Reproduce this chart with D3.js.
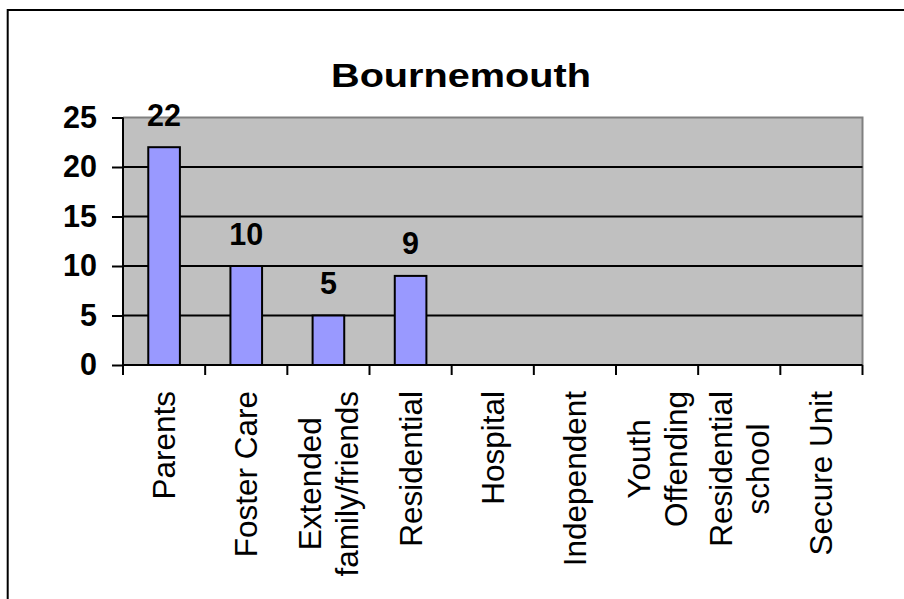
<!DOCTYPE html>
<html>
<head>
<meta charset="utf-8">
<script src="https://cdn.jsdelivr.net/npm/d3@7"></script>
<style>
  body { margin: 0; background: #fff; }
  svg { display: block; font-family: "Liberation Sans", Arial, sans-serif; }
</style>
</head>
<body>
<svg id="chart" width="904" height="599"></svg>
<script>
const title = "Bournemouth"
// category labels, split into the lines Excel wrapped them on
const categories = [
  ["Parents"],
  ["Foster Care"],
  ["Extended", "family/friends"],
  ["Residential"],
  ["Hospital"],
  ["Independent"],
  ["Youth", "Offending"],
  ["Residential", "school"],
  ["Secure Unit"]
]
const values = [22, 10, 5, 9, null, null, null, null, null]
const yTicks = [0, 5, 10, 15, 20, 25]

const plot = { left: 123, right: 862.5, top: 117.5, bottom: 365 }

const svg = d3.select("#chart")

// outer chart frame, cut off on the right and bottom
svg.append("rect")
  .attr("x", 7.7).attr("y", 10)
  .attr("width", 1000).attr("height", 1000)
  .attr("fill", "#fff")
  .attr("stroke", "#000")
  .attr("stroke-width", 2)

const x = d3.scaleBand()
  .domain(d3.range(categories.length))
  .range([plot.left, plot.right])
  .paddingInner(0.615)
  .paddingOuter(0.3075)

const y = d3.scaleLinear()
  .domain([0, 25])
  .range([plot.bottom, plot.top])

// plot area
svg.append("rect")
  .attr("x", plot.left).attr("y", plot.top)
  .attr("width", plot.right - plot.left)
  .attr("height", plot.bottom - plot.top)
  .attr("fill", "#C0C0C0")

svg.append("path")
  .attr("d", `M${plot.left},${plot.top}H${plot.right}V${plot.bottom}`)
  .attr("fill", "none")
  .attr("stroke", "#808080")
  .attr("stroke-width", 2)

// gridlines
svg.append("g")
  .selectAll("line")
  .data(yTicks.filter(t => t > 0 && t < 25))
  .join("line")
  .attr("x1", plot.left).attr("x2", plot.right)
  .attr("y1", d => y(d)).attr("y2", d => y(d))
  .attr("stroke", "#000")
  .attr("stroke-width", 2)

// bars
svg.append("g")
  .selectAll("rect")
  .data(values.map((v, i) => ({ v, i })).filter(d => d.v != null))
  .join("rect")
  .attr("x", d => x(d.i))
  .attr("y", d => y(d.v))
  .attr("width", x.bandwidth())
  .attr("height", d => y(0) - y(d.v))
  .attr("fill", "#9999FF")
  .attr("stroke", "#000")
  .attr("stroke-width", 2)

// value labels
svg.append("g")
  .selectAll("text")
  .data(values.map((v, i) => ({ v, i })).filter(d => d.v != null))
  .join("text")
  .attr("x", d => x(d.i) + x.bandwidth() / 2)
  .attr("y", d => y(d.v) - 21.5)
  .attr("text-anchor", "middle")
  .attr("font-size", 30.5)
  .attr("font-weight", "bold")
  .text(d => d.v)

// y axis
const yAxis = svg.append("g")
  .attr("transform", `translate(${plot.left},0)`)
  .call(d3.axisLeft(y).tickValues(yTicks).tickSize(11).tickPadding(15).tickFormat(d3.format("d")))
yAxis.select(".domain").attr("stroke-width", 2).attr("d", `M0,${plot.top}V${plot.bottom}`)
yAxis.selectAll(".tick line").attr("stroke-width", 2)
yAxis.selectAll(".tick text")
  .attr("font-size", 30.5)
  .attr("font-weight", "bold")
  .attr("font-family", "Liberation Sans, Arial, sans-serif")
  .attr("fill", "#000")

// x axis: ticks between categories
const xTickPos = d3.range(categories.length + 1).map(i => plot.left + (plot.right - plot.left) * i / categories.length)
svg.append("line")
  .attr("x1", plot.left).attr("x2", plot.right)
  .attr("y1", plot.bottom).attr("y2", plot.bottom)
  .attr("stroke", "#000").attr("stroke-width", 2)
svg.append("g")
  .selectAll("line")
  .data(xTickPos)
  .join("line")
  .attr("x1", d => d).attr("x2", d => d)
  .attr("y1", plot.bottom).attr("y2", plot.bottom + 10)
  .attr("stroke", "#000").attr("stroke-width", 2)

// rotated category labels, block top-aligned, lines centred
const labelTop = 391
const lineH = 37
const labels = svg.append("g")
  .selectAll("g")
  .data(categories)
  .join("g")

labels.each(function (lines, i) {
  const g = d3.select(this)
  const cx = x(i) + x.bandwidth() / 2
  const t = g.selectAll("text")
    .data(lines)
    .join("text")
    .attr("font-size", 31.5)
    .attr("text-anchor", "middle")
    .text(d => d)
  let maxLen = 0
  t.each(function () { maxLen = Math.max(maxLen, this.getComputedTextLength()) })
  t.attr("transform", (d, j) => {
    const off = (j - (lines.length - 1) / 2) * lineH
    return `translate(${cx + off},${labelTop + maxLen / 2}) rotate(-90)`
  })
    .attr("dy", "0.35em")
})

// title
svg.append("text")
  .attr("x", 461)
  .attr("y", 87)
  .attr("text-anchor", "middle")
  .attr("font-size", 33)
  .attr("font-weight", "bold")
  .attr("textLength", 260)
  .attr("lengthAdjust", "spacingAndGlyphs")
  .text(title)
</script>
</body>
</html>
